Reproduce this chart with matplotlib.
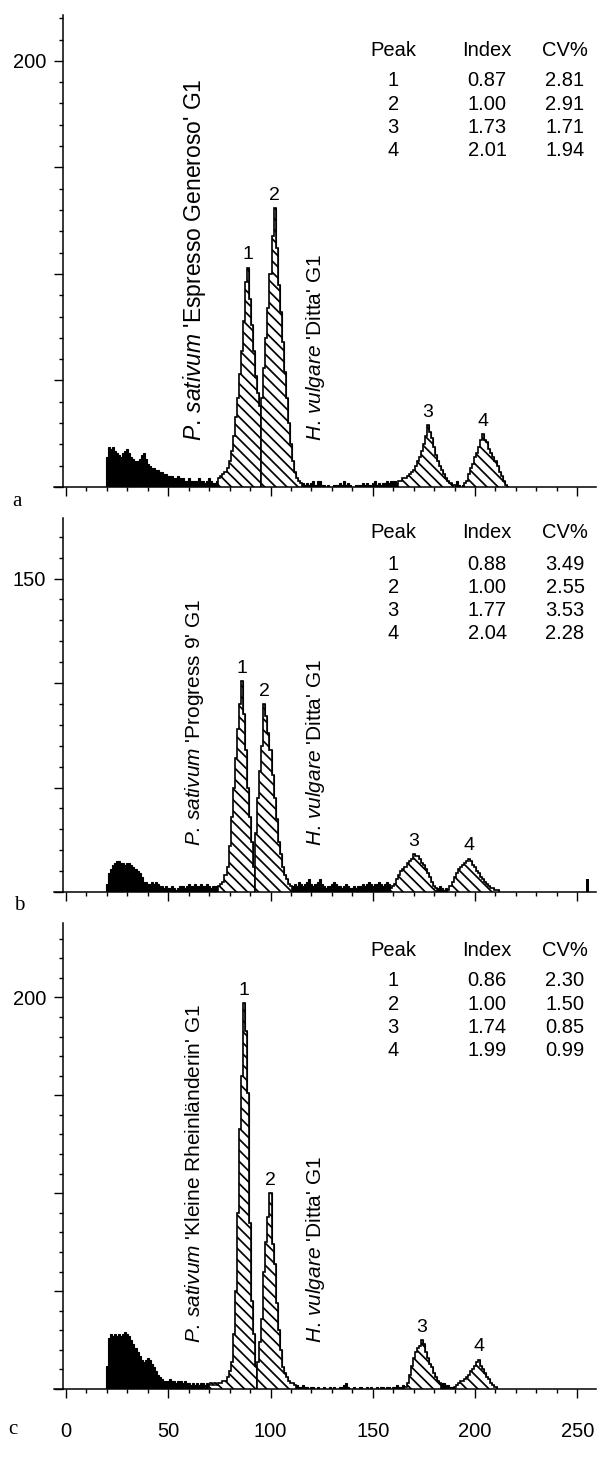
import numpy as np
import matplotlib
matplotlib.use('Agg')
import matplotlib.pyplot as plt
from matplotlib.ticker import MultipleLocator, FuncFormatter

plt.rcParams['font.family'] = ['Liberation Sans', 'DejaVu Sans']
plt.rcParams['mathtext.fontset'] = 'custom'
plt.rcParams['mathtext.rm'] = 'Liberation Sans'
plt.rcParams['mathtext.it'] = 'Liberation Sans:italic'
plt.rcParams['hatch.linewidth'] = 1.25

# 所有计数从第 18 道开始，每道一个值
chan_start = 18

# a: P. sativum 'Espresso Generoso' + H. vulgare 'Ditta'
counts_a = [
    0, 0,
    # 碎片 20-74
    14, 19, 18, 19, 17, 16, 15, 14, 16, 17, 18, 16, 14, 13, 12, 12, 13, 15, 16, 13,
    11, 10, 9, 9, 8, 8, 7, 7, 6, 6, 5, 5, 5, 4, 4, 5, 4, 4, 3, 3,
    4, 3, 3, 3, 3, 4, 3, 3, 2, 3, 4, 3, 2, 2, 3,
    # 峰 1: 75-95
    4, 5, 6, 7, 9, 12, 17, 24, 33, 42, 53, 64, 78, 96, 103, 88, 76, 64, 52, 44, 38,
    # 峰 2: 96-115
    42, 56, 70, 84, 100, 118, 131, 112, 95, 82, 68, 54, 42, 30, 20, 12, 7, 4, 3, 2,
    # 噪声 116-162
    2, 1, 2, 1, 2, 3, 1, 3, 3, 1, 1, 0, 1, 0, 0, 1, 1, 1, 2, 1,
    3, 1, 2, 1, 0, 0, 1, 1, 1, 2, 1, 2, 1, 1, 2, 3, 1, 2, 1, 2,
    2, 3, 2, 3, 3, 3, 2,
    # 峰 3: 163-190
    3, 3, 4, 4, 5, 6, 7, 8, 10, 12, 14, 17, 20, 24, 29, 26, 23, 19, 15, 12,
    10, 8, 6, 4, 3, 2, 1, 1,
    # 191-194
    3, 1, 0, 1,
    # 峰 4: 195-216
    2, 3, 6, 9, 11, 14, 16, 19, 22, 25, 22, 21, 18, 16, 14, 12, 10, 7, 5, 3, 1, 0,
]
hatched_a = [(75, 95), (96, 115), (163, 190), (195, 216)]

# b: P. sativum 'Progress 9' + H. vulgare 'Ditta'
counts_b = [
    0, 0,
    # 碎片 20-74
    4, 9, 11, 13, 14, 15, 15, 14, 14, 13, 14, 14, 13, 12, 11, 10, 9, 7, 5, 5,
    4, 4, 5, 4, 5, 4, 3, 3, 2, 3, 2, 2, 3, 2, 1, 2, 3, 3, 2, 3,
    4, 3, 3, 4, 3, 3, 4, 3, 3, 4, 3, 2, 3, 3, 3,
    # 峰 1: 75-92
    3, 4, 5, 8, 12, 22, 36, 50, 64, 78, 90, 101, 85, 68, 50, 36, 24, 12,
    # 峰 2: 93-110
    28, 45, 58, 70, 90, 84, 76, 68, 56, 45, 35, 24, 18, 12, 8, 6, 4, 3,
    # 噪声 111-158
    3, 4, 3, 5, 4, 3, 4, 5, 6, 4, 3, 4, 5, 6, 4, 3, 2, 3, 3, 4,
    5, 4, 3, 3, 2, 3, 4, 3, 2, 2, 3, 2, 3, 3, 4, 3, 4, 5, 4, 3,
    4, 4, 5, 4, 3, 4, 5, 4,
    # 峰 3: 159-181
    2, 3, 4, 6, 8, 10, 11, 12, 14, 15, 16, 18, 17, 17, 16, 14, 13, 11, 9, 7,
    5, 3, 2,
    # 182-186
    2, 3, 2, 1, 2,
    # 峰 4: 187-211
    1, 3, 5, 7, 9, 11, 12, 13, 14, 15, 16, 15, 13, 12, 10, 9, 7, 6, 5, 4,
    3, 2, 2, 1, 1,
]
hatched_b = [(75, 92), (93, 110), (159, 181), (187, 211)]
spike_chan_b = [255]
spike_counts_b = [6]

# c: P. sativum 'Kleine Rheinländerin' + H. vulgare 'Ditta'
counts_c = [
    0, 0,
    # 碎片 20-69
    12, 26, 28, 27, 28, 27, 28, 27, 28, 29, 28, 27, 25, 23, 21, 19, 17, 15, 14, 15,
    16, 15, 13, 11, 9, 7, 6, 5, 4, 4, 4, 5, 4, 4, 3, 4, 4, 3, 4, 3,
    3, 2, 3, 2, 3, 2, 3, 3, 2, 3,
    # 峰 1: 70-93
    2, 3, 2, 3, 2, 3, 3, 4, 4, 6, 9, 14, 28, 50, 90, 133, 160, 197, 183, 151,
    85, 45, 28, 12,
    # 峰 2: 94-112
    14, 24, 36, 60, 75, 88, 100, 74, 64, 44, 30, 20, 11, 8, 6, 4, 3, 3, 2,
    # 噪声 113-165
    2, 1, 1, 2, 1, 1, 0, 1, 1, 0, 1, 0, 0, 1, 0, 0, 1, 0, 1, 0,
    0, 1, 1, 2, 3, 1, 0, 0, 1, 0, 0, 1, 0, 0, 1, 0, 1, 0, 0, 1,
    0, 1, 1, 0, 1, 1, 0, 1, 1, 2, 1, 1, 2,
    # 峰 3: 166-183
    1, 3, 7, 12, 16, 19, 21, 22, 25, 23, 19, 16, 13, 11, 8, 6, 4, 3,
    # 184-189
    3, 3, 2, 2, 1, 1,
    # 峰 4: 190-210
    1, 2, 3, 4, 4, 5, 6, 7, 9, 10, 12, 14, 15, 12, 10, 8, 6, 5, 3, 2, 1,
]
hatched_c = [(70, 93), (94, 112), (166, 183), (190, 210)]

peak_no = [1, 2, 3, 4]
index_a = [0.87, 1.00, 1.73, 2.01]
cv_a = [2.81, 2.91, 1.71, 1.94]
index_b = [0.88, 1.00, 1.77, 2.04]
cv_b = [3.49, 2.55, 3.53, 2.28]
index_c = [0.86, 1.00, 1.74, 1.99]
cv_c = [2.30, 1.50, 0.85, 0.99]

sativum_names = ["'Espresso Generoso' G1", "'Progress 9' G1", "'Kleine Rheinländerin' G1"]
vulgare_name = "'Ditta' G1"

W, H = 597, 1461
fig = plt.figure(figsize=(W / 100, H / 100), dpi=100)
PX = 0.72  # 1 px in points


def make_axes(base_px, top_px):
    return fig.add_axes([53.7 / W, (H - base_px) / H, 542 / W, (base_px - top_px) / H])


def draw_panel(ax, counts, hatched, ymax, ylab, index, cv, sativum, hdr_px, show_x,
               sat_size=15):
    counts = np.array(counts, dtype=float)
    edges = np.arange(chan_start, chan_start + len(counts) + 1) - 0.5
    ax.stairs(counts, edges, fill=True, facecolor='black', edgecolor='black', lw=0.8)
    for n, (lo, hi) in zip(peak_no, hatched):
        i0, i1 = lo - chan_start, hi - chan_start + 1
        ax.stairs(counts[i0:i1], edges[i0:i1 + 1], fill=True, facecolor='white',
                  edgecolor='black', hatch='\\\\\\', lw=1.2)
        k = int(np.argmax(counts[i0:i1]))
        ax.annotate(str(n), xy=(lo + k, counts[i0 + k]), xytext=(0, 3),
                    textcoords='offset points', ha='center', va='bottom', fontsize=14)

    ax.set_xlim(-6, 259)
    ax.set_ylim(0, ymax)
    ax.spines[['top', 'right']].set_visible(False)
    ax.spines['left'].set_position(('data', -1.6))
    ax.spines[['left', 'bottom']].set_linewidth(1.1)
    ax.xaxis.set_major_locator(MultipleLocator(50))
    ax.xaxis.set_minor_locator(MultipleLocator(10))
    ax.yaxis.set_major_locator(MultipleLocator(50))
    ax.yaxis.set_minor_locator(MultipleLocator(10))
    ax.tick_params(which='major', direction='out', length=6.5, width=1.0, labelsize=14.5)
    ax.tick_params(which='minor', direction='out', length=3, width=1.0)
    ax.tick_params(axis='x', pad=17, labelbottom=show_x)
    ax.tick_params(axis='y', pad=5.5)
    ax.yaxis.set_major_formatter(
        FuncFormatter(lambda v, p: f'{v:.0f}' if abs(v - ylab) < 1 else ''))

    off = 46 * PX
    ax.annotate(r'$\mathit{P.\,sativum}$ ' + sativum, xy=(63, 0), xytext=(0, off),
                textcoords='offset points', rotation=90, ha='center', va='bottom',
                fontsize=sat_size)
    ax.annotate(r'$\mathit{H.\,vulgare}$ ' + vulgare_name, xy=(122, 0), xytext=(0, off),
                textcoords='offset points', rotation=90, ha='center', va='bottom', fontsize=15)

    # 表格
    cols = [160, 206, 244]
    rows = [['Peak', 'Index', 'CV%']] + [[str(p), f'{i:.2f}', f'{c:.2f}']
                                        for p, i, c in zip(peak_no, index, cv)]
    for r, row in enumerate(rows):
        y = hdr_px - (0 if r == 0 else 31 + 23.3 * (r - 1))
        for x, t in zip(cols, row):
            ax.annotate(t, xy=(x, 0), xytext=(0, y * PX), textcoords='offset points',
                        ha='center', va='center', fontsize=14.5)


ax_a = make_axes(487, 15)
draw_panel(ax_a, counts_a, hatched_a, 221.5, 200, index_a, cv_a, sativum_names[0], 437,
           False, sat_size=16.5)

ax_b = make_axes(892, 518)
draw_panel(ax_b, counts_b, hatched_b, 179, 150, index_b, cv_b, sativum_names[1], 359, False)
ax_b.bar(spike_chan_b, spike_counts_b, width=1, color='black')

ax_c = make_axes(1389, 923)
draw_panel(ax_c, counts_c, hatched_c, 238, 200, index_c, cv_c, sativum_names[2], 439, True)

for letter, (x, y) in zip('abc', [(17, 502), (19, 905), (13, 1430)]):
    fig.text(x / W, 1 - y / H, letter, family='Liberation Serif', fontsize=15,
             ha='center', va='center')

fig.savefig('out.png', dpi=100)
